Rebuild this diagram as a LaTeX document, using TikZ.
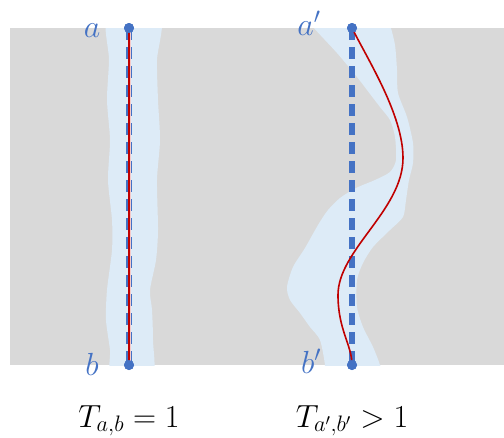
\RequirePackage{fix-cm}
\documentclass[tikz,border=0pt]{standalone}
\usepackage{amsmath}
\definecolor{bggray}{HTML}{D9D9D9}
\definecolor{pathblue}{HTML}{4472C4}
\definecolor{haloblue}{HTML}{DDEBF7}
\definecolor{pathred}{HTML}{C00000}
\definecolor{halopink}{HTML}{F6C9C9}
\begin{document}
\begin{tikzpicture}[x=1pt, y=-1pt, line width=0.5pt,
    endpt/.style={circle, fill=pathblue, inner sep=0pt, minimum size=10pt},
    ptlabel/.style={text=pathblue, anchor=base, inner sep=0pt, font=\fontsize{32}{38}\selectfont},
    eqlabel/.style={anchor=base, inner sep=0pt, font=\fontsize{32}{38}\selectfont},
    geo/.style={pathblue, line width=6pt, dash pattern=on 12pt off 7pt}]
  \useasboundingbox (0,0) rectangle (504,437);
  \fill[bggray] (10,28) rectangle (504,365);
  \begin{scope}
    \clip (10,28) rectangle (504,365);
    % band round the straight path
    \fill[haloblue] plot[smooth cycle, tension=0.45] coordinates {
      (108,15) (109,60) (107,100) (110,140) (108,180) (112,220) (112,250)
      (107,290) (106,320) (110,350) (112,378) (152,378) (153,340) (152,310)
      (150,290) (156,260) (158,230) (157,180) (160,140) (158,100) (157,60) (160,15)};
    % band round the bent path
    \fill[haloblue] plot[smooth cycle, tension=0.45] coordinates {
      (305,15) (313,27) (337,53) (357,77) (367,90) (380,107) (390,120) (395,137)
      (396,160) (390,172) (375,180) (356,188) (340,198) (328,210) (318,225)
      (305,248) (293,267) (287,287) (290,300) (300,313) (310,327) (320,340)
      (325,365) (325,378) (382,378) (380,365) (373,347) (363,327) (357,307)
      (357,280) (363,263) (373,247) (390,230) (403,217) (406,200) (409,180)
      (413,163) (413,143) (407,117) (398,93) (397,70) (395,45) (390,25) (385,15)};
  \end{scope}
  \node[endpt] (a) at (129,28) {};
  \node[endpt] (b) at (129,365) {};
  \node[endpt] (ap) at (352,28) {};
  \node[endpt] (bp) at (352,365) {};
  \draw[geo] (a.center) -- (b.center);
  \draw[halopink, line width=3pt] (a.center) -- (b.center);
  \draw[pathred, line width=1.8pt] (a.center) -- (b.center);
  \draw[geo] (ap.center) -- (bp.center);
  \draw[pathred, line width=1.6pt] (ap.center)
    .. controls (368,60) and (403,115) .. (403,158)
    .. controls (403,210) and (338,250) .. (338,295)
    .. controls (338,330) and (352,345) .. (bp.center);
  \node[endpt] at (a) {};
  \node[endpt] at (b) {};
  \node[endpt] at (ap) {};
  \node[endpt] at (bp) {};
  \node[ptlabel] (la) at (92,37) {$a$};
  \node[ptlabel] (lb) at (92,375) {$b$};
  \node[ptlabel] (lap) at (309,35) {$a'$};
  \node[ptlabel] (lbp) at (311,373) {$b'$};
  \node[eqlabel] (eq1) at (129,427) {$T_{a,b} = 1$};
  \node[eqlabel] (eq2) at (352,427) {$T_{a',b'} > 1$};
\end{tikzpicture}
\end{document}
